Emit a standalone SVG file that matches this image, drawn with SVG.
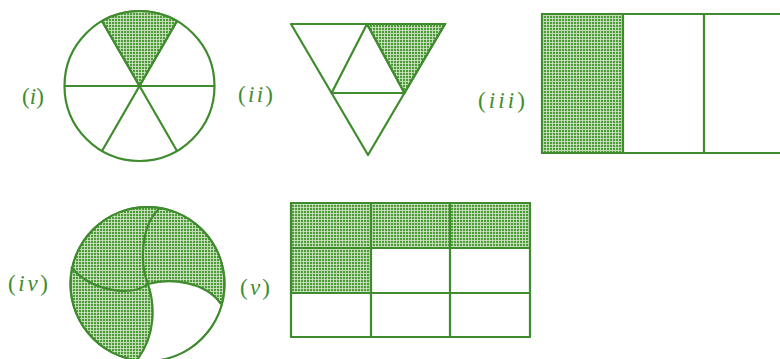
<svg xmlns="http://www.w3.org/2000/svg" width="780" height="359" viewBox="0 0 780 359">
<defs>
<pattern id="hatch" width="3" height="3" patternUnits="userSpaceOnUse">
<rect width="3" height="3" fill="#4f9a3a"/>
<path d="M0 0.5H3M0.5 0V3" stroke="#d6ebcc" stroke-width="0.8"/>
</pattern>
<style>
.ln{fill:none;stroke:#3f8c2e;stroke-width:2.2;stroke-linejoin:round}
.sh{fill:url(#hatch);stroke:#3f8c2e;stroke-width:2}
.lbl{font-family:"Liberation Serif","DejaVu Serif",serif;font-size:23px;fill:#3f8c2e}
.it{font-style:italic}
</style>
</defs>
<rect width="780" height="359" fill="#ffffff"/>

<g id="fig-i">
<path class="sh" d="M139.5,86 L102,21 A75,75 0 0 1 177,21 Z"/>
<circle class="ln" cx="139.5" cy="86" r="75"/>
<path class="ln" d="M64.5,86H214.5M102,21L177,151M177,21L102,151"/>
<text class="lbl" x="22" y="104" textLength="22" lengthAdjust="spacing">(<tspan class="it">i</tspan>)</text>
</g>

<g id="fig-ii">
<path class="sh" d="M367,24 L445,24 L404.4,93 Z"/>
<path class="ln" d="M291,24 L445,24 L368,155 Z"/>
<path class="ln" d="M367,24 L331.6,93 L404.4,93 Z"/>
<text class="lbl" x="238" y="102" textLength="35" lengthAdjust="spacing">(<tspan class="it">ii</tspan>)</text>
</g>

<g id="fig-iii">
<rect class="sh" x="542" y="14" width="81" height="139"/>
<path class="ln" d="M790,14H542V153H790M623,14V153M704,14V153"/>
<text class="lbl" x="478" y="108" textLength="47" lengthAdjust="spacing">(<tspan class="it">iii</tspan>)</text>
</g>

<g id="fig-iv">
<circle class="sh" cx="147.5" cy="284" r="77"/>
<path d="M148,284 C170,278 205,281 221,304 A77,77 0 0 1 137,360 C156,335 155,305 148,284 Z" fill="#ffffff" stroke="none"/>
<circle class="ln" cx="147.5" cy="284" r="77"/>
<path class="ln" d="M160,208 C140,225 140,265 148,284"/>
<path class="ln" d="M71,267 C90,290 130,298 148,284"/>
<path class="ln" d="M148,284 C170,278 205,281 221,304"/>
<path class="ln" d="M148,284 C155,305 156,335 137,360"/>
<text class="lbl" x="8" y="291" textLength="40" lengthAdjust="spacing">(<tspan class="it">iv</tspan>)</text>
</g>

<g id="fig-v">
<path class="sh" d="M291,203 H530 V248 H371 V293 H291 Z"/>
<rect class="ln" x="291" y="203" width="239" height="134"/>
<path class="ln" d="M371,203V337M450,203V337M291,248H530M291,293H530"/>
<text class="lbl" x="240" y="295" textLength="30" lengthAdjust="spacing">(<tspan class="it">v</tspan>)</text>
</g>
</svg>
